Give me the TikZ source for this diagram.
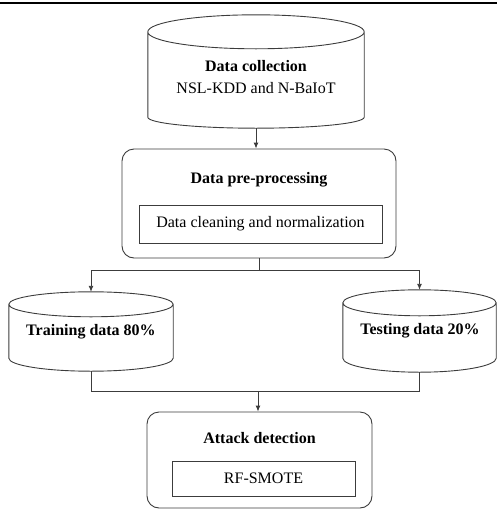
\documentclass[tikz,border=0pt]{standalone}
\usepackage{fontspec}
\setmainfont{Liberation Serif}
\usetikzlibrary{calc,arrows.meta}
\definecolor{linie}{HTML}{3C3C3C}
\tikzset{
	speicher/.style={rectangle, inner sep=0pt},
	block/.style={rectangle, rounded corners=12pt, draw=linie, line width=0.9pt, inner sep=0pt},
	innen/.style={rectangle, draw=linie, line width=0.9pt, inner sep=0pt},
	titel/.style={font=\fontsize{16}{19}\selectfont\bfseries},
	txt/.style={font=\fontsize{16}{19}\selectfont},
	pfeil/.style={draw=linie, line width=0.9pt, -{Latex[length=6pt,width=5pt]}},
	linie/.style={draw=linie, line width=0.9pt}
}
% Zylinder um einen Knoten: #1 Name, #2 Radius oben, #3 Radius unten
\newcommand{\zylinder}[3]{%
	\draw[linie] let \p1=(#1.north west), \p2=(#1.north east), \n1={(\x2-\x1)/2} in
		([yshift=-#2pt]#1.north west) -- ([yshift=#3pt]#1.south west)
		arc[start angle=180, end angle=360, x radius=\n1, y radius=#3pt]
		-- ([yshift=-#2pt]#1.north east)
		([yshift=-#2pt]#1.north) ellipse[x radius=\n1, y radius=#2pt];
}
\begin{document}
\begin{tikzpicture}[x=1pt, y=-1pt]
	\useasboundingbox (0,0) rectangle (497,509);
	% Linie oben
	\draw[line width=2pt] (0,3) -- (497,3);
	% Datensammlung
	\node[speicher, minimum width=216pt, minimum height=113pt] (dc) at (256,71.5) {};
	\zylinder{dc}{17}{11}
	\node[titel] (dctitel) at (256,66) {Data collection};
	\node[txt] (dctext) at (256,88) {NSL-KDD and N-BaIoT};
	% Vorverarbeitung
	\node[block, minimum width=274pt, minimum height=109pt] (pre) at (259,203.5) {};
	\node[titel] (pretitel) at (259,180) {Data pre-processing};
	\node[innen, txt, minimum width=243pt, minimum height=38pt] (clean) at (260.5,224)
	{Data cleaning and normalization};
	% Trainings- und Testdaten
	\node[speicher, minimum width=164pt, minimum height=79pt] (train) at (91,331.5) {};
	\zylinder{train}{12.5}{13}
	\node[titel] (traintitel) at (91,332) {Training data 80\%};
	\node[speicher, minimum width=153pt, minimum height=82pt] (test) at (419.5,331) {};
	\zylinder{test}{13}{14}
	\node[titel] (testtitel) at (420,331) {Testing data 20\%};
	% Angriffserkennung
	\node[block, minimum width=225pt, minimum height=96pt] (attack) at (259.5,460) {};
	\node[titel] (attacktitel) at (259.5,438) {Attack detection};
	\node[innen, txt, minimum width=183pt, minimum height=35pt] (rf) at (263.5,478.5)
	{RF-SMOTE};
	% Verbindungen
	\coordinate (split) at (259,270);
	\coordinate (merge) at (258,391);
	\draw[pfeil] (dc.south) -- (dc.south |- pre.north);
	\draw[linie] (pre.south) -- (pre.south |- split);
	\draw[linie] (train.north |- split) -- (test.north |- split);
	\draw[pfeil] (train.north |- split) -- (train.north);
	\draw[pfeil] (test.north |- split) -- (test.north);
	\draw[linie] (train.south) -- (train.south |- merge) -- (test.south |- merge) -- (test.south);
	\draw[pfeil] (merge) -- (merge |- attack.north);
\end{tikzpicture}
\end{document}
